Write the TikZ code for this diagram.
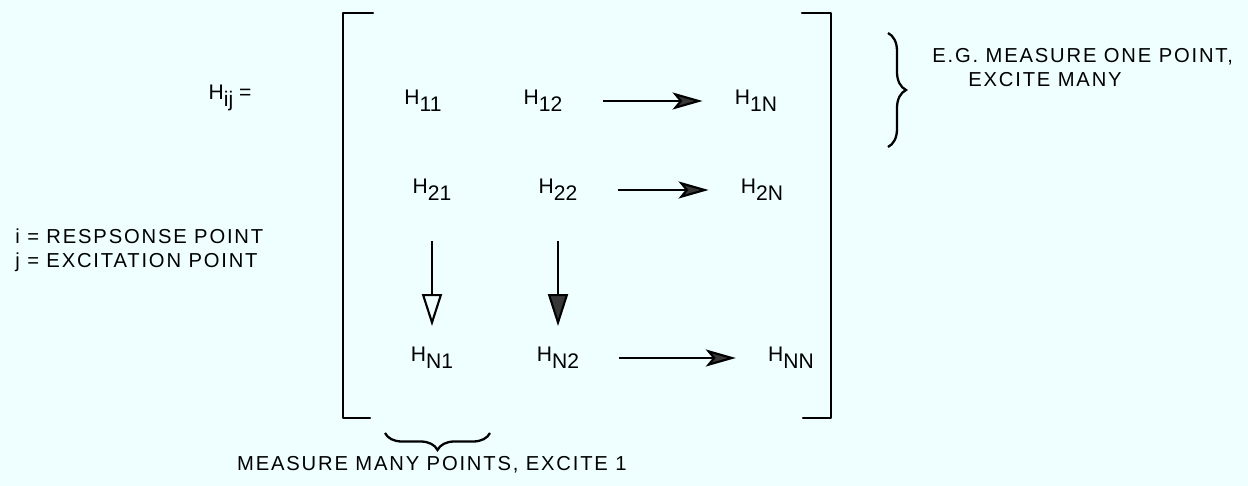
\documentclass[tikz,border=0pt]{standalone}
\usepackage{fontspec}
\setmainfont{Liberation Sans}
\newfontfamily\widefont{Liberation Sans}[LetterSpace=9]
\definecolor{PaperTint}{RGB}{239, 255, 255}
\definecolor{HeadGray}{RGB}{55, 55, 55}
\usetikzlibrary{arrows.meta, positioning, decorations.pathreplacing}
\newcommand{\Hsub}[1]{H\raisebox{-0.32em}{#1}}

\begin{document}
\begin{tikzpicture}[x=0.02cm, y=-0.02cm,
    every node/.style={inner sep=0pt},
    entry/.style={font=\fontsize{12}{14}\selectfont},
    note/.style={font=\widefont\fontsize{11.5}{13.7}\selectfont, align=left},
    bracketline/.style={line width=1.4pt, line cap=round, line join=round},
    rowarrow/.style={line width=1.2pt, -{Stealth[length=0.6cm, width=0.34cm, inset=0.14cm, fill=HeadGray]},
                     shorten <=0.8cm, shorten >=0.64cm},
    colarrow/.style={line width=1.2pt, shorten <=0.8cm, shorten >=0.42cm},
    curly/.style={line width=1.3pt, decorate}
]
\fill[PaperTint] (0,0) rectangle (1248,486);
\useasboundingbox (0,0) rectangle (1248,486);

% matrix entries
\node[entry] (hij) at (230,98) {\Hsub{ij} =};
\node[entry] (h11) at (423,101) {\Hsub{11}};
\node[entry] (h12) at (543,101) {\Hsub{12}};
\node[entry] (h1n) at (756,101) {\Hsub{1N}};
\node[entry] (h21) at (432,190) {\Hsub{21}};
\node[entry] (h22) at (558,190) {\Hsub{22}};
\node[entry] (h2n) at (762,190) {\Hsub{2N}};
\node[entry] (hn1) at (432,358) {\Hsub{N1}};
\node[entry] (hn2) at (558,358) {\Hsub{N2}};
\node[entry] (hnn) at (791,358) {\Hsub{NN}};

% brackets
\draw[bracketline] (373,13) -- (343,13) -- (343,418) -- (370,418);
\draw[bracketline] (802,13) -- (831,13) -- (831,418) -- (803,418);

% arrows
\draw[rowarrow] (h12) -- (h1n);
\draw[rowarrow] (h22) -- (h2n);
\draw[rowarrow] (hn2) -- (hnn);
\draw[colarrow, -{Triangle[open, length=0.64cm, width=0.4cm]}] (h21) -- (hn1);
\draw[colarrow, -{Triangle[length=0.64cm, width=0.4cm, fill=HeadGray]}] (h22) -- (hn2);

% notes
\node[note, anchor=west] (resp) at (15,250) {i = RESPSONSE POINT\\j = EXCITATION POINT};
\coordinate (rtop) at (888,33);
\coordinate (rbot) at (888,147);
\draw[curly, decoration={brace, amplitude=0.36cm}] (rtop) -- (rbot);
\node[note, anchor=west] (eg1) at (932,57) {E.G. MEASURE ONE POINT,};
\node[note, anchor=west] (eg2) at (968,80) {EXCITE MANY};
\coordinate (bleft) at (385,433);
\coordinate (bright) at (490,433);
\draw[curly, decoration={brace, mirror, amplitude=0.34cm}] (bleft) -- (bright);
\node[note, anchor=east] (many) at (627,465) {MEASURE MANY POINTS, EXCITE 1};
\end{tikzpicture}
\end{document}
